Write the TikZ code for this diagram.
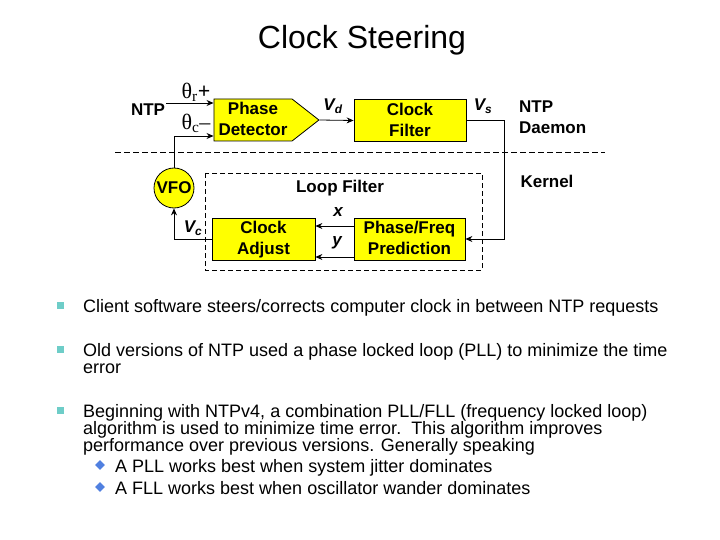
\documentclass[tikz,border=0pt]{standalone}
\usepackage{fontspec}
\setmainfont{Liberation Sans}
\newfontfamily\greekfont{Liberation Serif}
\usetikzlibrary{arrows.meta,
                shapes.geometric, shapes.symbols
            }

\definecolor{boxyellow}{RGB}{255,255,0}
\definecolor{squareteal}{RGB}{110,205,200}
\definecolor{diamondblue}{RGB}{80,128,224}
\newcommand\blockstrut{\rule[-2pt]{0pt}{21pt}}

\begin{document}
\begin{tikzpicture}[x=1pt, y=-1pt,
        block/.style={draw, fill=boxyellow, line width=0.8pt, minimum height=42pt,
                      inner ysep=0pt,
                      align=center, font=\fontsize{17}{21}\selectfont\bfseries,
                      execute at begin node=\blockstrut, execute at end node=\blockstrut},
        label/.style={font=\fontsize{17}{21}\selectfont\bfseries, inner sep=1pt, align=left},
        sig/.style={font=\fontsize{17}{17}\selectfont\bfseries\itshape, inner sep=1pt},
        link/.style={line width=0.8pt, -{Stealth[length=7pt, width=6pt]}},
        item/.style={font=\fontsize{18}{17}\selectfont, inner sep=0pt, align=left, anchor=north west},
        square/.style={fill=squareteal, minimum size=7pt, inner sep=0pt},
        gem/.style={diamond, fill=diamondblue, minimum size=10pt, inner sep=0pt}
    ]
    \useasboundingbox (0,0) rectangle (720,540);

    \node[font=\fontsize{32}{32}\selectfont] (title) at (362,40) {Clock Steering};

    % loop
    \node[block, signal, signal to=east, signal pointer angle=76, minimum width=105pt,
          inner xsep=2pt] (pd) at (253,120) {Phase\\Detector};
    \node[block, minimum width=112pt] (cf) at (410,120.5) {Clock\\Filter};
    \node[block, minimum width=103pt] (ca) at (263.5,239) {Clock\\\smash{Adjust}};
    \node[block, minimum width=111pt] (pf) at (409.5,239) {Phase/Freq\\Prediction};
    \node[draw, fill=boxyellow, circle, line width=0.8pt, minimum size=40pt, inner sep=0pt,
          font=\fontsize{17}{17}\selectfont\bfseries] (vfo) at (174,188) {VFO};

    \node[label] (ntp) at (148,110) {NTP};
    \node[label, anchor=west] (daemon) at (518,117.5) {NTP\\Daemon};
    \node[label] (kernel) at (547,181) {Kernel};
    \node[label] (loop) at (340,188) {Loop Filter};

    \node[font=\fontsize{22}{22}\selectfont\greekfont, inner sep=0pt] (thr) at (196,92)
        {θ\textsubscript{r}\textbf{+}};
    \node[font=\fontsize{22}{22}\selectfont\greekfont, inner sep=0pt] (thc) at (196,123)
        {θ\textsubscript{c}–};
    \node[sig] (vd) at (333,106) {V\textsubscript{d}};
    \node[sig] (vs) at (483,106) {V\textsubscript{s}};
    \node[sig] (vc) at (193,228) {V\textsubscript{c}};
    \node[sig] (xl) at (338,212) {x};
    \node[sig] (yl) at (337,243) {y};

    \draw[link] (ntp.east |- 0,103) -- ([yshift=17pt]pd.west);
    \draw[link] (vfo.north) |- ([yshift=-16pt]pd.west);
    \draw[link] (pd.east) -- (cf.west);
    \draw[link] (cf.east) -| ([xshift=39pt]pf.east) -- (pf.east);
    \draw[link] ([yshift=13pt]pf.west) -- ([yshift=13pt]ca.east);
    \draw[link] ([yshift=-18pt]pf.west) -- ([yshift=-18pt]ca.east);
    \draw[link] (ca.west) -| (vfo.south);

    \draw[dashed, dash pattern=on 6pt off 3pt, line width=0.7pt] (115,152) -- (605,152);
    \draw[dashed, dash pattern=on 5pt off 3pt, line width=0.9pt] (205,173) rectangle (482,270);

    % bullets
    \node[square] (sq1) at (60.5,305.5) {};
    \node[item] (t1) at (83,299)
        {Client software steers/corrects computer clock in between NTP requests};
    \node[square] (sq2) at (60.5,349.5) {};
    \node[item] (t2) at (83,343)
        {Old versions of NTP used a phase locked loop (PLL) to minimize the time\\error};
    \node[square] (sq3) at (60.5,410) {};
    \node[item] (t3) at (83,404)
        {Beginning with NTPv4, a combination PLL/FLL (frequency locked loop)\\
         algorithm is used to minimize time error.\ \ This algorithm improves\\
         performance over previous versions. Generally speaking};
    \node[gem] (d1) at (100,465) {};
    \node[item] (t4) at (115,459) {A PLL works best when system jitter dominates};
    \node[gem] (d2) at (100,487) {};
    \node[item] (t5) at (115,481) {A FLL works best when oscillator wander dominates};
\end{tikzpicture}
\end{document}
